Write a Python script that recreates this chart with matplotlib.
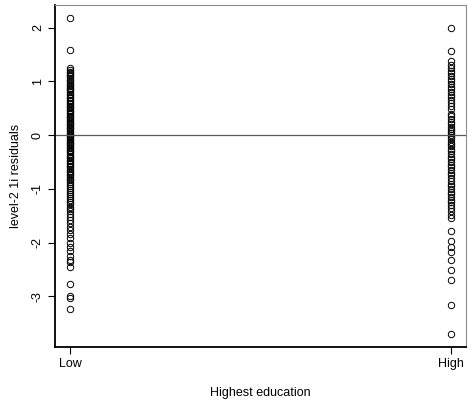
import matplotlib
matplotlib.use("Agg")
import matplotlib.pyplot as plt

plt.rcParams['font.family'] = ['Liberation Sans', 'DejaVu Sans']

categories = ["Low", "High"]

low_resid = [2.17, 1.58, 1.24, 1.21, 1.18, 1.15, 1.12, 1.10, 1.06, 1.03, 1.00,
             0.97, 0.94, 0.91, 0.88, 0.85, 0.83, 0.80, 0.77, 0.74, 0.71, 0.69,
             0.66, 0.63, 0.60, 0.58, 0.55, 0.52, 0.50, 0.47, 0.44, 0.42, 0.39,
             0.36, 0.34, 0.31, 0.28, 0.26, 0.23, 0.21, 0.18, 0.16, 0.13, 0.11,
             0.08, 0.06, 0.03, 0.01, -0.02, -0.04, -0.07, -0.09, -0.12, -0.14,
             -0.17, -0.19, -0.22, -0.24, -0.27, -0.30, -0.32, -0.35, -0.38,
             -0.40, -0.43, -0.46, -0.48, -0.51, -0.54, -0.57, -0.60, -0.63,
             -0.66, -0.69, -0.72, -0.75, -0.78, -0.81, -0.84, -0.88, -0.91,
             -0.95, -0.98, -1.02, -1.05, -1.09, -1.13, -1.17, -1.21, -1.25,
             -1.29, -1.33, -1.38, -1.42, -1.47, -1.52, -1.58, -1.64, -1.70,
             -1.76, -1.84, -1.92, -2.00, -2.08, -2.16, -2.24, -2.32, -2.36,
             -2.45, -2.76, -3.00, -3.02, -3.24]

high_resid = [1.99, 1.57, 1.37, 1.30, 1.25, 1.20, 1.15, 1.10, 1.05, 1.00, 0.95,
              0.90, 0.85, 0.80, 0.75, 0.70, 0.65, 0.60, 0.55, 0.48, 0.40, 0.35,
              0.30, 0.25, 0.20, 0.16, 0.12, 0.08, 0.04, 0.00, -0.04, -0.08,
              -0.12, -0.16, -0.20, -0.25, -0.30, -0.35, -0.40, -0.45, -0.50,
              -0.55, -0.60, -0.65, -0.70, -0.75, -0.80, -0.85, -0.90, -0.95,
              -1.00, -1.05, -1.10, -1.15, -1.20, -1.25, -1.30, -1.36, -1.42,
              -1.48, -1.55, -1.78, -1.96, -2.08, -2.18, -2.32, -2.50, -2.70,
              -3.15, -3.70]

y_ticks = [-3, -2, -1, 0, 1, 2]

fig = plt.figure(figsize=(4.68, 4.04), dpi=100)
ax = fig.add_axes([55 / 468, 1 - 347 / 404, 411 / 468, 342 / 404])

for pos, vals in zip([1, 2], [low_resid, high_resid]):
    ax.plot([pos] * len(vals), vals, 'o', markerfacecolor='none',
            markeredgecolor='black', markersize=4.6, markeredgewidth=0.7,
            linestyle='none')

ax.axhline(0, color='0.35', linewidth=0.9)

ax.set_xlim(0.96, 2.04)
ax.set_ylim(-3.94, 2.42)
ax.set_xticks([1, 2])
ax.set_xticklabels(categories)
ax.set_yticks(y_ticks)
ax.set_yticklabels([str(t) for t in y_ticks], rotation=90, va='center')
ax.tick_params(length=5, width=0.8, labelsize=9, pad=3)

ax.spines['left'].set_linewidth(1.3)
ax.spines['bottom'].set_linewidth(1.3)
ax.spines['top'].set_color('0.55')
ax.spines['right'].set_color('0.55')
ax.spines['top'].set_linewidth(0.8)
ax.spines['right'].set_linewidth(0.8)

ax.set_xlabel("Highest education", fontsize=9, labelpad=12)
ax.set_ylabel("level-2 1i residuals", fontsize=9, labelpad=7)

fig.savefig("out.png", dpi=100)
